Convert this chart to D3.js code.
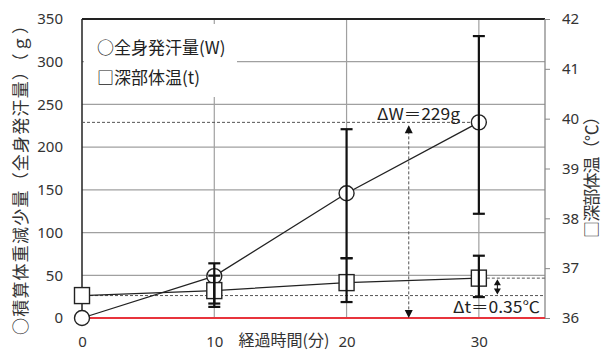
<!DOCTYPE html>
<html>
<head>
<meta charset="utf-8">
<script src="https://cdn.jsdelivr.net/npm/d3@7"></script>
<style>
  html, body { margin: 0; padding: 0; background: #fff; }
  svg { display: block; font-family: "Noto Sans CJK JP", "Noto Sans", sans-serif; }
</style>
</head>
<body>
<svg id="chart" width="603" height="352"></svg>
<script>
// Elapsed time (min)
const minutes = [0, 10, 20, 30];
// Cumulative body-weight loss (whole-body sweat), g
const sweat = [0, 49, 146, 229];
const sweatLow = [null, 13, 70, 122];
const sweatHigh = [null, 64, 221, 330];
// Core body temperature, °C
const core = [36.45, 36.55, 36.71, 36.8];
const coreLow = [null, 36.29, 36.32, 36.42];
const coreHigh = [null, 36.85, 37.2, 37.25];
// Axis ticks
const xTicks = [0, 10, 20, 30];
const leftTicks = [0, 50, 100, 150, 200, 250, 300, 350];
const rightTicks = [36, 37, 38, 39, 40, 41, 42];
// Annotated differences
const deltaW = 229;
const deltaT = 0.35;

const svg = d3.select("#chart");
const L = 82, R = 545, T = 19, B = 318;

const x = d3.scaleLinear().domain([0, 35]).range([L, R]);
const yL = d3.scaleLinear().domain([0, 350]).range([B, T]);
const yR = d3.scaleLinear().domain([36, 42]).range([B, T]);

const grid = "#a0a0a0";
const numFont = "'Noto Sans', 'DejaVu Sans', sans-serif";

// horizontal gridlines
svg.append("g").selectAll("line").data(leftTicks.filter(v => v > 0 && v < 350)).join("line")
  .attr("x1", L).attr("x2", R).attr("y1", d => yL(d)).attr("y2", d => yL(d))
  .attr("stroke", grid).attr("stroke-width", 1.2);

// vertical gridlines
svg.append("g").selectAll("line").data(xTicks.filter(v => v > 0)).join("line")
  .attr("x1", d => x(d)).attr("x2", d => x(d)).attr("y1", T).attr("y2", B)
  .attr("stroke", grid).attr("stroke-width", 1.2);

// legend backdrop hides grid behind it
svg.append("rect").attr("x", L + 2).attr("y", T + 5).attr("width", 153).attr("height", 73)
  .attr("fill", "#fff");

// frame: top edge, right axis, left axis
svg.append("line").attr("x1", L).attr("x2", R).attr("y1", T).attr("y2", T)
  .attr("stroke", "#222").attr("stroke-width", 1.8);
svg.append("line").attr("x1", R).attr("x2", R).attr("y1", T).attr("y2", B)
  .attr("stroke", "#888").attr("stroke-width", 1.3);
svg.append("line").attr("x1", L).attr("x2", L).attr("y1", T).attr("y2", B)
  .attr("stroke", "#222").attr("stroke-width", 1.5);

// left axis labels
const axL = svg.append("g").attr("transform", `translate(${L},0)`)
  .call(d3.axisLeft(yL).tickValues(leftTicks).tickSize(0).tickPadding(19));
axL.select(".domain").remove();
axL.selectAll("text").attr("font-size", 15).attr("fill", "#333").attr("font-family", numFont);

// right axis ticks and labels
const axR = svg.append("g").attr("transform", `translate(${R},0)`)
  .call(d3.axisRight(yR).tickValues(rightTicks).tickSize(5).tickPadding(12).tickFormat(d3.format("d")));
axR.select(".domain").remove();
axR.selectAll("line").attr("stroke", "#888");
axR.selectAll("text").attr("font-size", 15).attr("fill", "#333").attr("font-family", numFont);

// bottom axis labels
const axB = svg.append("g").attr("transform", `translate(0,${B})`)
  .call(d3.axisBottom(x).tickValues(xTicks).tickSize(0).tickPadding(18).tickFormat(d3.format("d")));
axB.select(".domain").remove();
axB.selectAll("text").attr("font-size", 15).attr("fill", "#333").attr("font-family", numFont);

// zero line
svg.append("line").attr("x1", L).attr("x2", R).attr("y1", yL(0)).attr("y2", yL(0))
  .attr("stroke", "#e8343c").attr("stroke-width", 2);

// annotation guides
function guide(x1, y1, x2, y2) {
  svg.append("line").attr("x1", x1).attr("y1", y1).attr("x2", x2).attr("y2", y2)
    .attr("stroke", "#555").attr("stroke-width", 1).attr("stroke-dasharray", "3,2");
}
guide(L, yL(deltaW), x(30) - 8, yL(deltaW));
guide(x(0) + 8, yR(core[0]), R, yR(core[0]));
guide(x(30) + 8, yR(core[0] + deltaT), R, yR(core[0] + deltaT));

function arrowHead(cx, tipY, dir, w, h) {
  svg.append("path")
    .attr("d", `M${cx},${tipY} L${cx - w / 2},${tipY - dir * h} L${cx + w / 2},${tipY - dir * h} Z`)
    .attr("fill", "#111");
}
// ΔW double arrow
const xW = x(24.7);
guide(xW, yL(deltaW) + 4, xW, yL(0) - 4);
arrowHead(xW, yL(deltaW) + 3, -1, 8, 8);
arrowHead(xW, yL(0), 1, 8, 8);
// Δt double arrow
const xT = x(31.4);
svg.append("line").attr("x1", xT).attr("x2", xT)
  .attr("y1", yR(core[0] + deltaT) + 3).attr("y2", yR(core[0]) - 3)
  .attr("stroke", "#111").attr("stroke-width", 1);
arrowHead(xT, yR(core[0] + deltaT) + 1, -1, 7, 6);
arrowHead(xT, yR(core[0]) - 1, 1, 7, 6);

svg.append("text").attr("x", 460).attr("y", yL(deltaW) - 2).attr("text-anchor", "end")
  .attr("font-size", 16).attr("fill", "#222")
  .attr("textLength", 83).attr("lengthAdjust", "spacingAndGlyphs")
  .text(`ΔW＝${deltaW}g`);
svg.append("text").attr("x", 540).attr("y", 313).attr("text-anchor", "end")
  .attr("font-size", 16).attr("fill", "#222")
  .attr("textLength", 87).attr("lengthAdjust", "spacingAndGlyphs")
  .text(`Δt＝${deltaT}℃`);

// series lines
const lineW = d3.line().x((d, i) => x(minutes[i])).y(d => yL(d));
const lineT = d3.line().x((d, i) => x(minutes[i])).y(d => yR(d));
svg.append("path").attr("d", lineW(sweat)).attr("fill", "none").attr("stroke", "#222").attr("stroke-width", 1.3);
svg.append("path").attr("d", lineT(core)).attr("fill", "none").attr("stroke", "#222").attr("stroke-width", 1.3);

// markers
svg.append("g").selectAll("circle").data(sweat).join("circle")
  .attr("cx", (d, i) => x(minutes[i])).attr("cy", d => yL(d)).attr("r", 7.5)
  .attr("fill", "#fff").attr("stroke", "#222").attr("stroke-width", 1.4);
svg.append("g").selectAll("rect").data(core).join("rect")
  .attr("x", (d, i) => x(minutes[i]) - 7.5).attr("y", d => yR(d) - 8)
  .attr("width", 15).attr("height", 16)
  .attr("fill", "#fff").attr("stroke", "#222").attr("stroke-width", 1.4);

// error bars
function errBars(lo, hi, scale) {
  const g = svg.append("g").attr("stroke", "#111").attr("stroke-width", 2.2);
  minutes.forEach((m, i) => {
    if (lo[i] == null) return;
    const cx = x(m);
    g.append("line").attr("x1", cx).attr("x2", cx).attr("y1", scale(lo[i])).attr("y2", scale(hi[i]));
    g.append("line").attr("x1", cx - 6).attr("x2", cx + 6).attr("y1", scale(lo[i])).attr("y2", scale(lo[i]));
    g.append("line").attr("x1", cx - 6).attr("x2", cx + 6).attr("y1", scale(hi[i])).attr("y2", scale(hi[i]));
  });
}
errBars(sweatLow, sweatHigh, yL);
errBars(coreLow, coreHigh, yR);

// legend
svg.append("text").attr("x", 97).attr("y", 54).attr("font-size", 17).attr("fill", "#222")
  .text("○全身発汗量(W)");
svg.append("text").attr("x", 97).attr("y", 84).attr("font-size", 17).attr("fill", "#222")
  .text("□深部体温(t)");

// axis titles
svg.append("text").attr("transform", `translate(27,176) rotate(-90)`).attr("text-anchor", "middle")
  .attr("font-size", 17).attr("fill", "#333")
  .attr("textLength", 318).attr("lengthAdjust", "spacing")
  .text("○積算体重減少量（全身発汗量）（ｇ）");
svg.append("text").attr("transform", `translate(598,173) rotate(-90)`).attr("text-anchor", "middle")
  .attr("font-size", 17).attr("fill", "#333")
  .attr("textLength", 130).attr("lengthAdjust", "spacing")
  .text("□深部体温（℃）");
svg.append("text").attr("x", 284).attr("y", 346).attr("text-anchor", "middle")
  .attr("font-size", 16).attr("fill", "#333")
  .text("経過時間(分)");
</script>
</body>
</html>
